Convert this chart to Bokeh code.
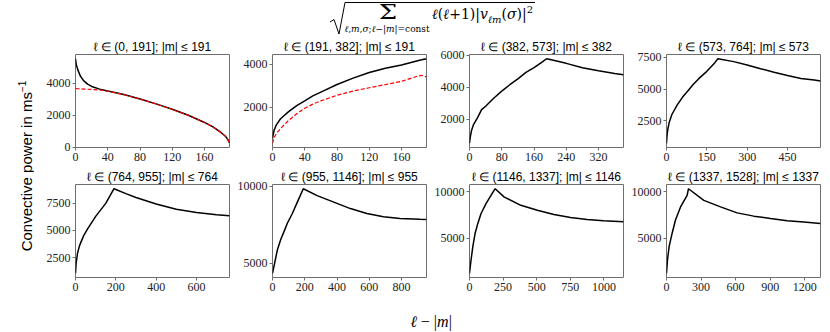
from bokeh.plotting import figure
from bokeh.models import Range1d, FixedTicker, Div
from bokeh.layouts import row, column
from bokeh.embed import file_html
from bokeh.resources import INLINE

# ---------------- data ----------------
titles = [
    "ℓ ∈ (0, 191]; |m| ≤ 191",
    "ℓ ∈ (191, 382]; |m| ≤ 191",
    "ℓ ∈ (382, 573]; |m| ≤ 382",
    "ℓ ∈ (573, 764]; |m| ≤ 573",
    "ℓ ∈ (764, 955]; |m| ≤ 764",
    "ℓ ∈ (955, 1146]; |m| ≤ 955",
    "ℓ ∈ (1146, 1337]; |m| ≤ 1146",
    "ℓ ∈ (1337, 1528]; |m| ≤ 1337",
]
x_max = [191, 191, 382, 573, 764, 955, 1146, 1337]

x1 = [0, 1, 3, 6, 10, 15, 20, 30, 40, 60, 80, 100, 120, 140, 160, 170, 180, 186, 189, 191]
black1 = [5530, 5150, 4820, 4450, 4160, 3940, 3800, 3630, 3510, 3290, 3020, 2710, 2370, 2000, 1550, 1290, 940, 690, 480, 280]
red1 = [3670, 3665, 3655, 3645, 3635, 3625, 3610, 3580, 3505, 3285, 3015, 2705, 2365, 1995, 1545, 1285, 935, 680, 460, 250]

x2 = [0, 2, 5, 10, 20, 30, 40, 50, 60, 80, 100, 120, 140, 160, 180, 185, 191]
black2 = [560, 940, 1200, 1470, 1800, 2080, 2300, 2530, 2710, 3060, 3360, 3620, 3820, 3970, 4170, 4210, 4260]
red2 = [330, 590, 790, 1015, 1390, 1700, 1955, 2150, 2300, 2560, 2760, 2910, 3060, 3210, 3450, 3490, 3410]

x3 = [0, 2, 5, 10, 20, 30, 40, 60, 80, 100, 120, 140, 160, 180, 191, 200, 240, 280, 320, 360, 382]
black3 = [490, 890, 1290, 1660, 2100, 2600, 2810, 3310, 3760, 4160, 4530, 4930, 5230, 5580, 5790, 5740, 5500, 5230, 5030, 4870, 4790]

x4 = [0, 2, 5, 10, 20, 40, 60, 80, 100, 120, 150, 180, 191, 250, 300, 350, 400, 450, 500, 550, 573]
black4 = [700, 1320, 1830, 2340, 2980, 3740, 4360, 4870, 5380, 5820, 6400, 7090, 7400, 7170, 6910, 6610, 6330, 6070, 5840, 5710, 5640]

x5 = [0, 3, 10, 20, 40, 60, 100, 150, 191, 250, 300, 400, 500, 600, 700, 764]
black5 = [1050, 1930, 2900, 3600, 4500, 5150, 6300, 7500, 8850, 8400, 8040, 7440, 6960, 6660, 6450, 6350]

x6 = [0, 14, 31, 51, 72, 92, 123, 154, 191, 277, 380, 483, 585, 688, 791, 914, 955]
black6 = [4360, 5060, 5910, 6550, 7080, 7610, 8240, 8980, 9850, 9400, 8980, 8560, 8240, 8030, 7920, 7860, 7850]

x7 = [0, 12, 25, 42, 62, 86, 123, 160, 191, 259, 382, 505, 628, 752, 875, 998, 1146]
black7 = [1230, 2710, 4120, 5530, 6580, 7640, 8700, 9580, 10300, 9400, 8520, 7990, 7540, 7220, 7010, 6870, 6760]

x8 = [0, 9, 23, 49, 78, 122, 179, 191, 324, 469, 613, 758, 903, 1047, 1192, 1337]
black8 = [1230, 2710, 4120, 5530, 6940, 8350, 9580, 10300, 9050, 8350, 7710, 7360, 7110, 6870, 6730, 6580]

x_ticks = [
    [0, 40, 80, 120, 160],
    [0, 40, 80, 120, 160],
    [0, 80, 160, 240, 320],
    [0, 150, 300, 450],
    [0, 200, 400, 600],
    [0, 200, 400, 600, 800],
    [0, 250, 500, 750, 1000],
    [0, 300, 600, 900, 1200],
]
y_ticks = [
    [0, 2000, 4000],
    [2000, 4000],
    [2000, 4000, 6000],
    [2500, 5000, 7500],
    [2500, 5000, 7500],
    [5000, 10000],
    [5000, 10000],
    [5000, 10000],
]

xs = [x1, x2, x3, x4, x5, x6, x7, x8]
blacks = [black1, black2, black3, black4, black5, black6, black7, black8]
reds = [red1, red2, None, None, None, None, None, None]

# ---------------- figures ----------------
FRAME_COLOR = "#6e6e6e"
SERIF = "Liberation Serif"


def make_panel(i):
    ys = list(blacks[i]) + (list(reds[i]) if reds[i] is not None else [])
    lo, hi = min(ys), max(ys)
    pad = 0.05 * (hi - lo)
    p = figure(
        width=197, height=130,
        x_range=Range1d(0, x_max[i]),
        y_range=Range1d(lo - pad, hi + pad),
        output_backend="svg", toolbar_location=None, tools="",
        min_border_left=42, min_border_right=1,
        min_border_top=16, min_border_bottom=20,
        title=titles[i],
    )
    p.title.align = "center"
    p.title.text_font = "Liberation Sans"
    p.title.text_font_style = "normal"
    p.title.text_font_size = "12px"
    p.title.text_color = "black"
    p.title.standoff = 1
    p.title.offset = 0
    p.xgrid.visible = False
    p.ygrid.visible = False
    p.outline_line_color = FRAME_COLOR
    p.outline_line_width = 1
    for ax in (p.xaxis[0], p.yaxis[0]):
        ax.axis_line_color = None
        ax.minor_tick_line_color = None
        ax.major_tick_in = 0
        ax.major_tick_out = 3
        ax.major_tick_line_color = FRAME_COLOR
        ax.major_label_text_font = SERIF
        ax.major_label_text_font_style = "normal"
        ax.major_label_text_font_size = "12px"
        ax.major_label_text_color = "#222222"
        ax.major_label_standoff = 2
    p.xaxis[0].ticker = FixedTicker(ticks=x_ticks[i])
    p.yaxis[0].ticker = FixedTicker(ticks=y_ticks[i])
    p.line(xs[i], blacks[i], line_color="black", line_width=1.5)
    if reds[i] is not None:
        p.line(xs[i], reds[i], line_color="red", line_width=1.2, line_dash="4 2")
    return p


panels = [make_panel(i) for i in range(8)]

# ---------------- texts ----------------
top_html = (
    '<div style="position:relative;width:821px;height:37px;">'
    '<svg style="position:absolute;left:0;top:0;overflow:visible" width="821" height="37">'
    '<polyline points="330,22 334,19.5 339,34 345,2.5 535,2.5" fill="none" stroke="black" stroke-width="1"/>'
    '</svg>'
    '<div style="position:absolute;left:388px;top:2px;transform:translateX(-50%) scaleX(1.3);'
    'font-family:\'DejaVu Serif\';font-size:20px;line-height:1;">Σ</div>'
    '<div style="position:absolute;left:387px;top:25px;transform:translateX(-50%);white-space:nowrap;'
    'font-family:\'DejaVu Serif\';font-size:9px;line-height:1;">'
    '<i>ℓ</i>,<i>m</i>,<i>σ</i>;<i>ℓ</i>−|<i>m</i>|=const</div>'
    '<div style="position:absolute;left:432px;top:7px;white-space:nowrap;'
    'font-family:\'DejaVu Serif\';font-size:14px;line-height:1;">'
    '<i>ℓ</i>(<i>ℓ</i>+1)|<i>v</i><sub style="font-size:10px;line-height:0"><i>ℓm</i></sub>'
    '(<i>σ</i>)|<sup style="font-size:10px;line-height:0">2</sup></div>'
    '</div>'
)
top_div = Div(text=top_html, width=821, height=37, margin=0, styles={"overflow": "visible"})

ylabel_html = (
    '<div style="position:relative;width:33px;height:260px;">'
    '<div style="position:absolute;left:26px;top:129px;transform:translate(-50%,-50%) rotate(-90deg);'
    'white-space:nowrap;font-family:\'Liberation Sans\';font-size:15px;line-height:1;">'
    'Convective power in ms<sup style="font-size:10px;line-height:0">−1</sup></div>'
    '</div>'
)
ylabel_div = Div(text=ylabel_html, width=33, height=260, margin=0, styles={"overflow": "visible"})

xlabel_html = (
    '<div style="position:relative;width:821px;height:30px;">'
    '<div style="position:absolute;left:431px;top:17px;transform:translateX(-50%);white-space:nowrap;'
    'font-family:\'Liberation Serif\';font-size:16px;line-height:1;">'
    '<i>ℓ</i> − |<i>m</i>|</div>'
    '</div>'
)
xlabel_div = Div(text=xlabel_html, width=821, height=30, margin=0, styles={"overflow": "visible"})

grid = column(row(*panels[:4], spacing=0), row(*panels[4:], spacing=0), spacing=0)
layout = column(top_div, row(ylabel_div, grid, spacing=0), xlabel_div, spacing=0)

open("out.html", "w").write(file_html(layout, INLINE))
